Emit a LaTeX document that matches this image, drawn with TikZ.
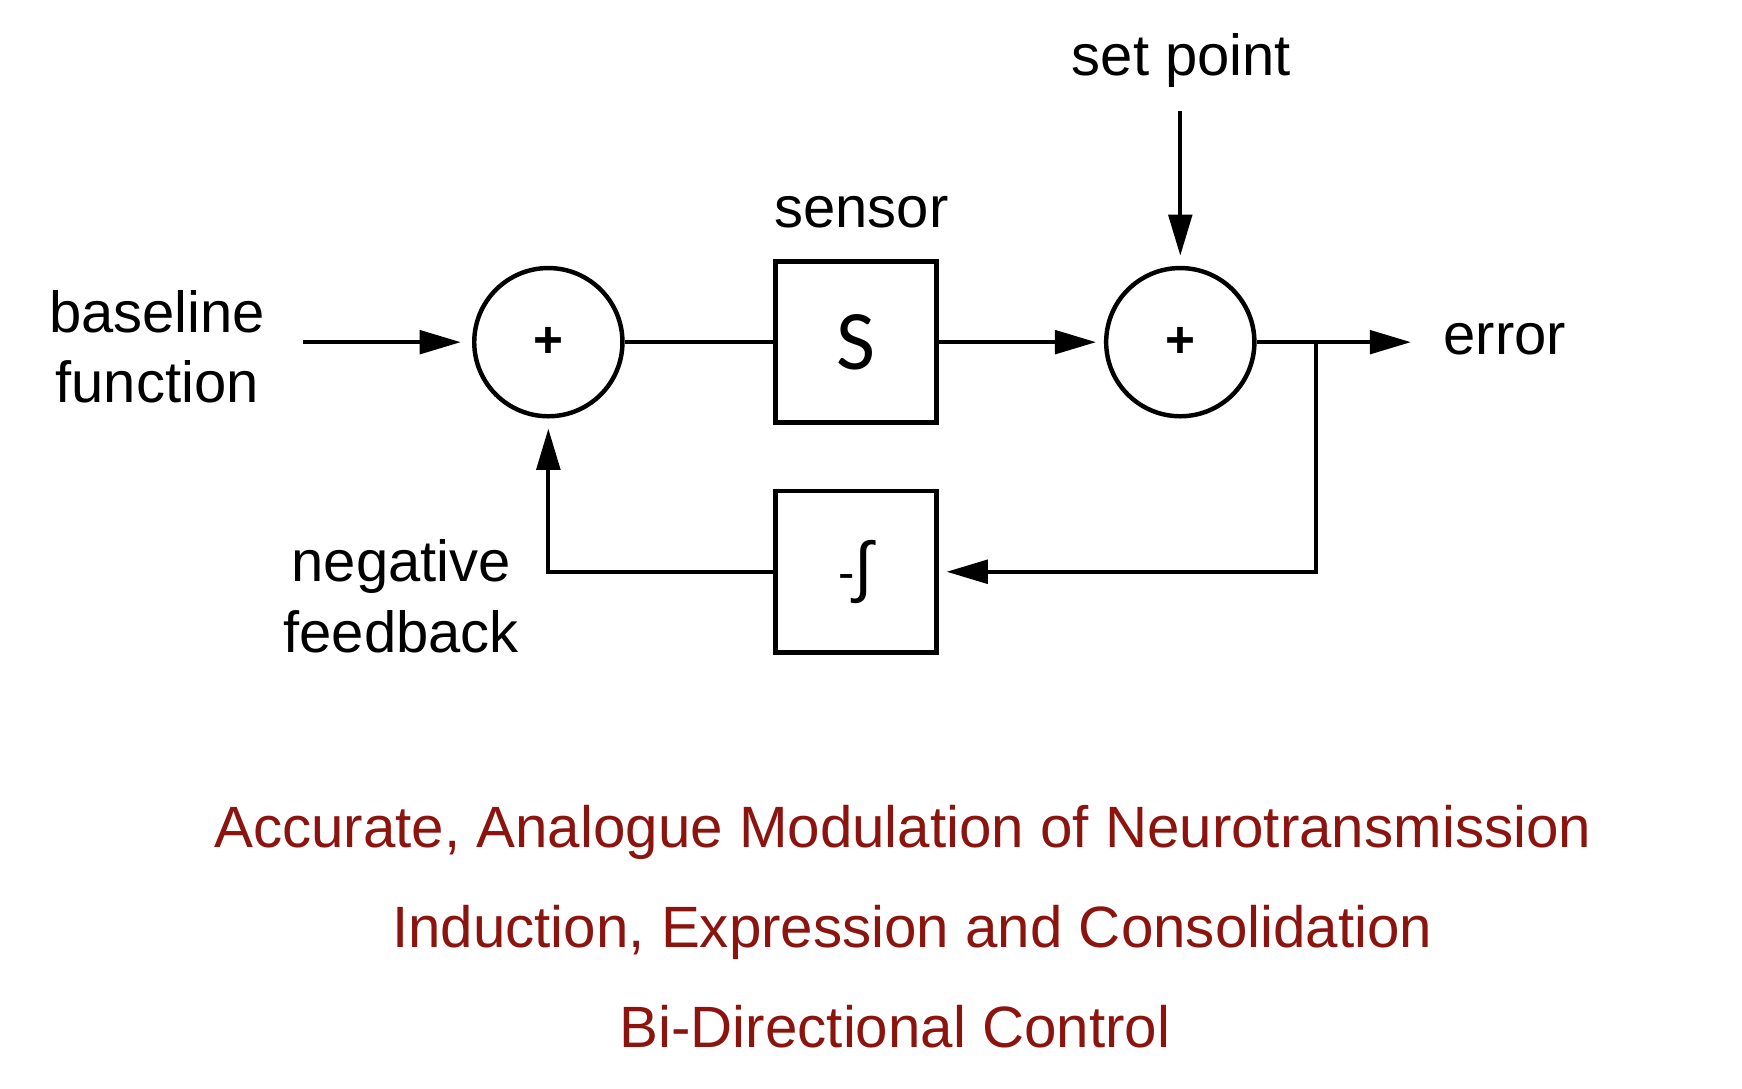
\documentclass[tikz,border=0pt]{standalone}
\usepackage{fontspec}
\setmainfont{Liberation Sans}
\newfontfamily\sglyph{Carlito}
\usetikzlibrary{arrows.meta}
\definecolor{titlered}{RGB}{140,20,15}
\begin{document}
\begin{tikzpicture}[x=1pt,y=-1pt,
  lbl/.style={font=\fontsize{52}{62}\selectfont, inner sep=0pt, anchor=base},
  redtxt/.style={font=\fontsize{52.3}{62}\selectfont, text=titlered, inner sep=0pt, anchor=base},
  sumc/.style={draw, circle, line width=4pt, minimum size=133pt, inner sep=0pt, font=\bfseries\fontsize{46}{56}\selectfont},
  blk/.style={draw, rectangle, line width=4pt, minimum size=144.5pt, inner sep=0pt},
  conn/.style={line width=3.8pt},
  arr/.style={conn, -{Triangle[length=37pt,width=21pt]}},
]
\useasboundingbox (0,0) rectangle (1563,977);

% blocks
\node[sumc] (c1) at (492,307) {+};
\node[blk] (s) at (768,307) {\sglyph\fontsize{76}{80}\selectfont S};
\node[sumc] (c2) at (1059,307) {+};
\node[blk] (int) at (768,513) {\fontsize{44}{50}\selectfont -\fontsize{60}{60}\selectfont ∫};

% labels
\node[lbl] (bl1) at (141,298) {baseline};
\node[lbl] (bl2) at (141,361) {function};
\node[lbl] (sen) at (773,204) {sensor};
\node[lbl] (spt) at (1060,68) {set point};
\node[lbl, anchor=base west] (err) at (1295,318) {error};
\node[lbl] (nf1) at (360,522) {negative};
\node[lbl] (nf2) at (360,585) {feedback};

% connector end points
\coordinate (bin) at (272,307);
\coordinate (spin) at (1059,100);
\coordinate (eout) at (1266,307);
\coordinate (br) at (1181,307);

% connectors
\draw[arr, shorten >=10pt] (bin) -- (c1);
\draw[conn] (c1) -- (s);
\draw[arr, shorten >=7pt] (s) -- (c2);
\draw[arr, shorten >=9pt] (spin) -- (c2);
\draw[arr] (c2) -- (eout);
\draw[arr, shorten >=7pt] (br) |- (int);
\draw[arr, shorten >=9pt] (int) -| (c1);

% titles
\node[redtxt] (t1) at (810,760) {Accurate, Analogue Modulation of Neurotransmission};
\node[redtxt] (t2) at (818.5,850) {Induction, Expression and Consolidation};
\node[redtxt] (t3) at (803,940) {Bi-Directional Control};
\end{tikzpicture}
\end{document}
